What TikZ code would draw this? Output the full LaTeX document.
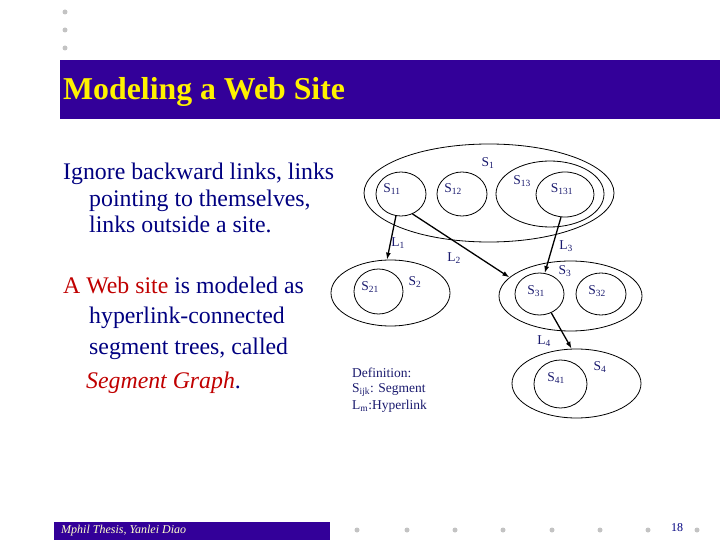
\documentclass[tikz,border=0pt]{standalone}
\usepackage{fontspec}
\setmainfont{Liberation Serif}
\usepackage{xcolor}
\usetikzlibrary{arrows.meta}
\usetikzlibrary{shapes.geometric}
\definecolor{barblue}{RGB}{51,0,153}
\definecolor{textnavy}{RGB}{0,0,128}
\definecolor{labelnavy}{RGB}{26,26,110}
\definecolor{textred}{RGB}{192,0,0}
\definecolor{dotgray}{RGB}{195,195,195}
\definecolor{footyellow}{RGB}{255,255,204}
\newcommand{\segname}[1]{S\textsubscript{#1}}
\newcommand{\linkname}[1]{L\textsubscript{#1}}
\tikzset{
  seg/.style={draw, ellipse, inner sep=0pt, line width=0.8pt},
  lbl/.style={text=labelnavy, inner sep=0pt, font=\fontsize{13.5}{16}\selectfont},
  body/.style={anchor=base west, inner sep=0pt, text=textnavy, font=\fontsize{23.8}{28}\selectfont},
  hlink/.style={line width=1.3pt, -{Latex[length=7pt,width=5pt]}}
}

\begin{document}
\begin{tikzpicture}[x=1pt,y=-1pt]
\useasboundingbox (0,0) rectangle (720,540);
% slide frame
\fill[dotgray] (65,12) circle (2.5pt) (65,30) circle (2.5pt) (65,48) circle (2.5pt);
\fill[barblue] (60,60) rectangle (720,119);
\node[anchor=base west, inner sep=0pt, text=yellow, font=\bfseries\fontsize{31.8}{36}\selectfont] (title) at (63,100) {Modeling a Web Site};
\fill[barblue] (54,522) rectangle (330,540);
\node[anchor=west, inner sep=0pt, text=footyellow, font=\itshape\fontsize{12}{14}\selectfont] (foot) at (61,531) {Mphil Thesis, Yanlei Diao};
\fill[dotgray] (357,530) circle (2.5pt) (407,530) circle (2.5pt) (455,530) circle (2.5pt) (503,530) circle (2.5pt)
  (552,530) circle (2.5pt) (600,530) circle (2.5pt) (648,530) circle (2.5pt) (697,530) circle (2.5pt);
\node[text=textnavy, inner sep=0pt, font=\fontsize{12}{14}\selectfont] (page) at (677,528) {18};

% text
\node[body] (ignore1) at (63,179.5) {Ignore backward links, links};
\node[body] (ignore2) at (89,207) {pointing to themselves,};
\node[body] (ignore3) at (89,233) {links outside a site.};
\node[body] (site1) at (63,293) {\textcolor{textred}{A Web site} is modeled as};
\node[body] (site2) at (89,323) {hyperlink-connected};
\node[body] (site3) at (89,354) {segment trees, called};
\node[body] (site4) at (86,388) {\textcolor{textred}{\itshape Segment Graph}.};

% segment trees
\node[seg, minimum width=250pt, minimum height=98pt] (s1) at (489,193) {};
\node[seg, minimum width=50pt, minimum height=44pt] (s11) at (401,194) {};
\node[seg, minimum width=50pt, minimum height=44pt] (s12) at (462,194) {};
\node[seg, minimum width=108pt, minimum height=66pt] (s13) at (550,194) {};
\node[seg, minimum width=58pt, minimum height=45pt] (s131) at (565,194.5) {};
\node[seg, minimum width=119pt, minimum height=66pt] (s2) at (390.5,293) {};
\node[seg, minimum width=49pt, minimum height=45pt] (s21) at (378.5,291.5) {};
\node[seg, minimum width=143pt, minimum height=70pt] (s3) at (570.5,296) {};
\node[seg, minimum width=49pt, minimum height=42pt] (s31) at (539.5,294) {};
\node[seg, minimum width=50pt, minimum height=42pt] (s32) at (601,294) {};
\node[seg, minimum width=129pt, minimum height=69pt] (s4) at (576.5,383.5) {};
\node[seg, minimum width=53pt, minimum height=48pt] (s41) at (560.5,384) {};

\node[lbl] (ls1) at (488,163) {\segname{1}};
\node[lbl] (ls11) at (392,189) {\segname{11}};
\node[lbl] (ls12) at (453,189) {\segname{12}};
\node[lbl] (ls13) at (522,181) {\segname{13}};
\node[lbl] (ls131) at (562,189) {\segname{131}};
\node[lbl] (ls2) at (415,282) {\segname{2}};
\node[lbl] (ls21) at (370,287) {\segname{21}};
\node[lbl] (ls3) at (565,271) {\segname{3}};
\node[lbl] (ls31) at (536,291) {\segname{31}};
\node[lbl] (ls32) at (597,291) {\segname{32}};
\node[lbl] (ls4) at (600,367) {\segname{4}};
\node[lbl] (ls41) at (556,378) {\segname{41}};

% hyperlinks
\draw[hlink] (s11.257) -- (s2.96);
\draw[hlink] (s11.300) -- (s3.163);
\draw[hlink] (s131.260) -- (s31.76);
\draw[hlink] (s31.302) -- (s4.98);
\node[lbl] (ll1) at (398,243) {\linkname{1}};
\node[lbl] (ll2) at (454,258) {\linkname{2}};
\node[lbl] (ll3) at (566,246) {\linkname{3}};
\node[lbl] (ll4) at (544,341) {\linkname{4}};

% definition
\node[lbl, anchor=west] (def1) at (352,373) {Definition:};
\node[lbl, anchor=west] (def2) at (352,390) {S\textsubscript{ijk}: Segment};
\node[lbl, anchor=west] (def3) at (352,406) {L\textsubscript{m}:Hyperlink};
\end{tikzpicture}
\end{document}
